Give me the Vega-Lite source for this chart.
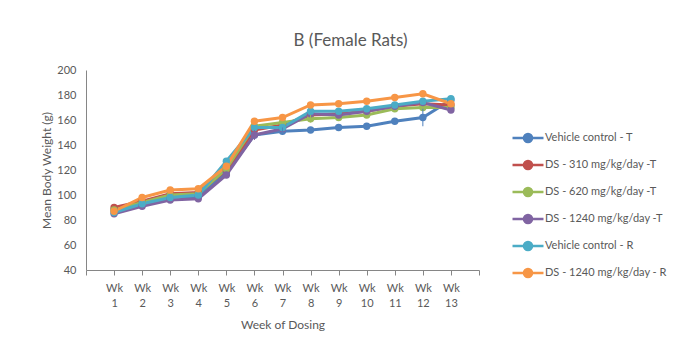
{
  "$schema": "https://vega.github.io/schema/vega-lite/v6.json",
  "autosize": "none",
  "width": 393,
  "height": 200,
  "padding": {"left": 86, "top": 70, "right": 205, "bottom": 78},
  "background": "white",
  "config": {
    "font": "Lato",
    "view": {"stroke": null},
    "axis": {"labelColor": "#595959", "titleColor": "#595959", "labelFontSize": 11, "titleFontSize": 12, "titleFontWeight": "normal", "domainColor": "#868686", "tickColor": "#868686", "grid": false, "labelOverlap": false, "labelFlush": false},
    "axisQuantitative": {"labelOverlap": false},
    "axisY": {"labelOverlap": false, "values": [40, 60, 80, 100, 120, 140, 160, 180, 200]},
    "legend": {"labelColor": "#595959", "labelFontSize": 11}
  },
  "title": {"text": "B (Female Rats)", "fontSize": 17, "fontWeight": "normal", "color": "#595959", "anchor": "middle", "dx": 68, "offset": 14},
  "datasets": {
    "main": [
      {"week": 1, "series": "Vehicle control - T", "weight": 88},
      {"week": 2, "series": "Vehicle control - T", "weight": 93},
      {"week": 3, "series": "Vehicle control - T", "weight": 98},
      {"week": 4, "series": "Vehicle control - T", "weight": 99},
      {"week": 5, "series": "Vehicle control - T", "weight": 118},
      {"week": 6, "series": "Vehicle control - T", "weight": 148},
      {"week": 7, "series": "Vehicle control - T", "weight": 151},
      {"week": 8, "series": "Vehicle control - T", "weight": 152},
      {"week": 9, "series": "Vehicle control - T", "weight": 154},
      {"week": 10, "series": "Vehicle control - T", "weight": 155},
      {"week": 11, "series": "Vehicle control - T", "weight": 159},
      {"week": 12, "series": "Vehicle control - T", "weight": 162},
      {"week": 13, "series": "Vehicle control - T", "weight": 176},
      {"week": 1, "series": "DS - 310 mg/kg/day -T", "weight": 90},
      {"week": 2, "series": "DS - 310 mg/kg/day -T", "weight": 95},
      {"week": 3, "series": "DS - 310 mg/kg/day -T", "weight": 101},
      {"week": 4, "series": "DS - 310 mg/kg/day -T", "weight": 102},
      {"week": 5, "series": "DS - 310 mg/kg/day -T", "weight": 120},
      {"week": 6, "series": "DS - 310 mg/kg/day -T", "weight": 152},
      {"week": 7, "series": "DS - 310 mg/kg/day -T", "weight": 156},
      {"week": 8, "series": "DS - 310 mg/kg/day -T", "weight": 164},
      {"week": 9, "series": "DS - 310 mg/kg/day -T", "weight": 165},
      {"week": 10, "series": "DS - 310 mg/kg/day -T", "weight": 167},
      {"week": 11, "series": "DS - 310 mg/kg/day -T", "weight": 171},
      {"week": 12, "series": "DS - 310 mg/kg/day -T", "weight": 173},
      {"week": 13, "series": "DS - 310 mg/kg/day -T", "weight": 172},
      {"week": 1, "series": "DS - 620 mg/kg/day -T", "weight": 88},
      {"week": 2, "series": "DS - 620 mg/kg/day -T", "weight": 94},
      {"week": 3, "series": "DS - 620 mg/kg/day -T", "weight": 100},
      {"week": 4, "series": "DS - 620 mg/kg/day -T", "weight": 101},
      {"week": 5, "series": "DS - 620 mg/kg/day -T", "weight": 121},
      {"week": 6, "series": "DS - 620 mg/kg/day -T", "weight": 155},
      {"week": 7, "series": "DS - 620 mg/kg/day -T", "weight": 158},
      {"week": 8, "series": "DS - 620 mg/kg/day -T", "weight": 161},
      {"week": 9, "series": "DS - 620 mg/kg/day -T", "weight": 162},
      {"week": 10, "series": "DS - 620 mg/kg/day -T", "weight": 164},
      {"week": 11, "series": "DS - 620 mg/kg/day -T", "weight": 169},
      {"week": 12, "series": "DS - 620 mg/kg/day -T", "weight": 170},
      {"week": 13, "series": "DS - 620 mg/kg/day -T", "weight": 170},
      {"week": 1, "series": "DS - 1240 mg/kg/day -T", "weight": 85},
      {"week": 2, "series": "DS - 1240 mg/kg/day -T", "weight": 91},
      {"week": 3, "series": "DS - 1240 mg/kg/day -T", "weight": 96},
      {"week": 4, "series": "DS - 1240 mg/kg/day -T", "weight": 97},
      {"week": 5, "series": "DS - 1240 mg/kg/day -T", "weight": 116},
      {"week": 6, "series": "DS - 1240 mg/kg/day -T", "weight": 148},
      {"week": 7, "series": "DS - 1240 mg/kg/day -T", "weight": 153},
      {"week": 8, "series": "DS - 1240 mg/kg/day -T", "weight": 165},
      {"week": 9, "series": "DS - 1240 mg/kg/day -T", "weight": 164},
      {"week": 10, "series": "DS - 1240 mg/kg/day -T", "weight": 167},
      {"week": 11, "series": "DS - 1240 mg/kg/day -T", "weight": 171},
      {"week": 12, "series": "DS - 1240 mg/kg/day -T", "weight": 174},
      {"week": 13, "series": "DS - 1240 mg/kg/day -T", "weight": 168},
      {"week": 1, "series": "Vehicle control - R", "weight": 86},
      {"week": 2, "series": "Vehicle control - R", "weight": 93},
      {"week": 3, "series": "Vehicle control - R", "weight": 98},
      {"week": 4, "series": "Vehicle control - R", "weight": 100},
      {"week": 5, "series": "Vehicle control - R", "weight": 127},
      {"week": 6, "series": "Vehicle control - R", "weight": 154},
      {"week": 7, "series": "Vehicle control - R", "weight": 154},
      {"week": 8, "series": "Vehicle control - R", "weight": 167},
      {"week": 9, "series": "Vehicle control - R", "weight": 167},
      {"week": 10, "series": "Vehicle control - R", "weight": 169},
      {"week": 11, "series": "Vehicle control - R", "weight": 172},
      {"week": 12, "series": "Vehicle control - R", "weight": 175},
      {"week": 13, "series": "Vehicle control - R", "weight": 177},
      {"week": 1, "series": "DS - 1240 mg/kg/day - R", "weight": 87},
      {"week": 2, "series": "DS - 1240 mg/kg/day - R", "weight": 98},
      {"week": 3, "series": "DS - 1240 mg/kg/day - R", "weight": 104},
      {"week": 4, "series": "DS - 1240 mg/kg/day - R", "weight": 105},
      {"week": 5, "series": "DS - 1240 mg/kg/day - R", "weight": 123},
      {"week": 6, "series": "DS - 1240 mg/kg/day - R", "weight": 159},
      {"week": 7, "series": "DS - 1240 mg/kg/day - R", "weight": 162},
      {"week": 8, "series": "DS - 1240 mg/kg/day - R", "weight": 172},
      {"week": 9, "series": "DS - 1240 mg/kg/day - R", "weight": 173},
      {"week": 10, "series": "DS - 1240 mg/kg/day - R", "weight": 175},
      {"week": 11, "series": "DS - 1240 mg/kg/day - R", "weight": 178},
      {"week": 12, "series": "DS - 1240 mg/kg/day - R", "weight": 181},
      {"week": 13, "series": "DS - 1240 mg/kg/day - R", "weight": 173}
    ],
    "errors": [
      {"week": 12, "series": "Vehicle control - T", "lo": 155, "hi": 169},
      {"week": 6, "series": "DS - 1240 mg/kg/day -T", "lo": 144, "hi": 152},
      {"week": 7, "series": "Vehicle control - T", "lo": 148, "hi": 154},
      {"week": 8, "series": "DS - 620 mg/kg/day -T", "lo": 158, "hi": 164}
    ]
  },
  "encoding": {
    "x": {
      "field": "week", "type": "quantitative",
      "scale": {"domain": [0, 14], "nice": false, "zero": false},
      "axis": {
        "title": "Week of Dosing",
        "values": [0, 1, 2, 3, 4, 5, 6, 7, 8, 9, 10, 11, 12, 13, 14],
        "labelExpr": "datum.value >= 1 && datum.value <= 13 ? ['Wk', '' + datum.value] : ''",
        "labelLineHeight": 15,
        "labelPadding": 7,
        "tickSize": 5,
        "labelFlush": false,
        "labelOverlap": false,
        "titlePadding": 11
      }
    },
    "color": {
      "field": "series", "type": "nominal",
      "scale": {
        "domain": ["Vehicle control - T", "DS - 310 mg/kg/day -T", "DS - 620 mg/kg/day -T", "DS - 1240 mg/kg/day -T", "Vehicle control - R", "DS - 1240 mg/kg/day - R"],
        "range": ["#4F81BD", "#C0504D", "#9BBB59", "#8064A2", "#4BACC6", "#F79646"]
      },
      "legend": {
        "title": null,
        "orient": "none",
        "legendX": 433,
        "legendY": 59,
        "padding": 0,
        "symbolType": "M-2,0L2,0M0.52,0A0.52,0.52,0,1,1,-0.52,0A0.52,0.52,0,1,1,0.52,0Z",
        "symbolSize": 240,
        "symbolStrokeWidth": 2.5,
        "labelOffset": 8,
        "rowPadding": 7,
        "encode": {"symbols": {"update": {"fill": {"scale": "color", "field": "value"}, "opacity": {"value": 1}}}}
      }
    }
  },
  "layer": [
    {
      "data": {"name": "main"},
      "mark": {"type": "line", "strokeWidth": 3, "point": {"filled": true, "size": 55}},
      "encoding": {
        "y": {
          "field": "weight", "type": "quantitative",
          "scale": {"domain": [40, 200], "nice": false},
          "axis": {"title": "Mean Body Weight (g)", "values": [40, 60, 80, 100, 120, 140, 160, 180, 200], "ticks": false, "labelPadding": 10, "titlePadding": 3, "labelFlush": false, "labelOverlap": false}
        }
      }
    },
    {
      "data": {"name": "errors"},
      "mark": {"type": "rule", "strokeWidth": 1},
      "encoding": {
        "y": {"field": "lo", "type": "quantitative", "axis": {"title": "Mean Body Weight (g)", "values": [40, 60, 80, 100, 120, 140, 160, 180, 200], "ticks": false, "labelPadding": 10, "titlePadding": 3, "labelFlush": false, "labelOverlap": false}},
        "y2": {"field": "hi"}
      }
    }
  ]
}
